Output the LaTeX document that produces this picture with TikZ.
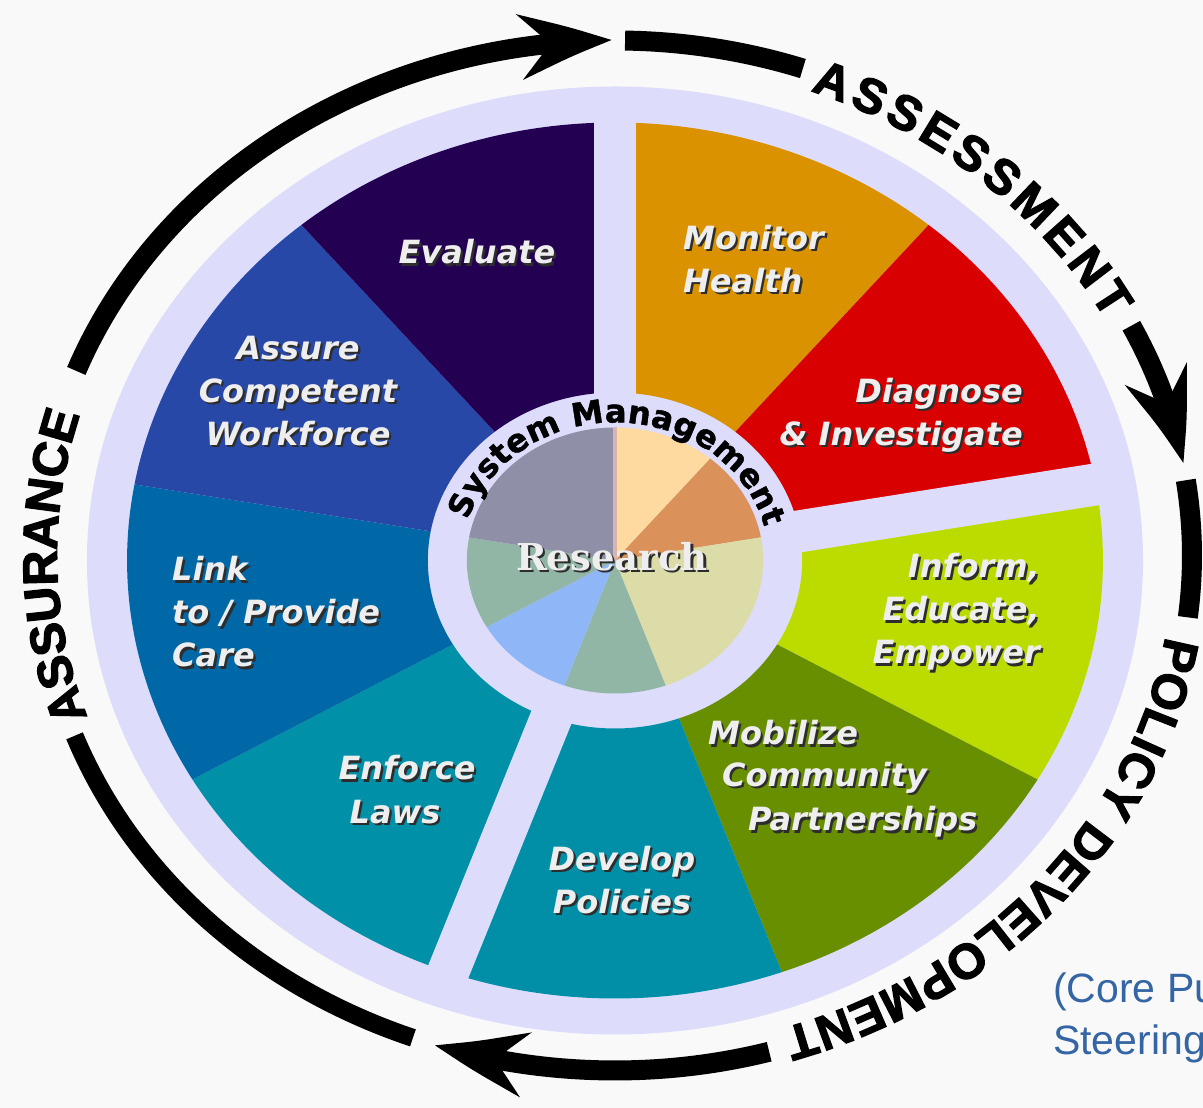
\documentclass[tikz,border=0pt]{standalone}
\usepackage{fontspec}
\usetikzlibrary{arrows.meta,bending,decorations.text,calc}
\newfontfamily\lblfam{DejaVu Sans}
\newfontfamily\smfam{DejaVu Sans}[BoldFeatures={FakeBold=1.5}]
\newfontfamily\serfam{DejaVu Serif}
\newfontfamily\olfam{Liberation Sans}[BoldFeatures={FakeBold=2.5}]
\newfontfamily\notefam{Liberation Sans}
\definecolor{bg}{RGB}{249,249,249}
\definecolor{lav}{RGB}{221,221,251}
\definecolor{cEval}{RGB}{36,0,82}
\definecolor{cAssure}{RGB}{40,72,168}
\definecolor{cLink}{RGB}{0,104,166}
\definecolor{cEnforce}{RGB}{0,144,168}
\definecolor{cDevelop}{RGB}{0,143,166}
\definecolor{cMobil}{RGB}{104,143,0}
\definecolor{cInform}{RGB}{188,220,0}
\definecolor{cDiag}{RGB}{216,0,0}
\definecolor{cMonitor}{RGB}{218,146,0}
\definecolor{pPeach}{RGB}{255,218,160}
\definecolor{pTan}{RGB}{218,146,90}
\definecolor{pKhaki}{RGB}{220,220,168}
\definecolor{pSage}{RGB}{146,182,166}
\definecolor{pBlue}{RGB}{143,183,248}
\definecolor{pGray}{RGB}{143,143,168}
\definecolor{pLine}{RGB}{215,182,176}
\definecolor{noteblue}{RGB}{52,101,164}
\definecolor{embfill}{RGB}{238,238,238}
\definecolor{embshadow}{RGB}{45,45,45}
\newcommand\lblfont{\lblfam\bfseries\itshape\fontsize{32}{43}\selectfont}
\newcommand\resfont{\serfam\bfseries\fontsize{37}{40}\selectfont}
\newcommand\olfont{\olfam\bfseries\fontsize{49}{49}\selectfont}
\newcommand\smfont{\smfam\bfseries\fontsize{32}{32}\selectfont}
\newcommand\emb[4]{%
  \node[wsh,#3] (#1-sh) at ($(#2)+(2.2,-2.2)$) {#4};
  \node[wlbl,#3] (#1) at (#2) {#4};}
\tikzset{
  wlbl/.style={text=embfill, font=\lblfont, inner sep=0pt},
  wsh/.style={text=embshadow, font=\lblfont, inner sep=0pt},
  arcline/.style={line width=20pt, draw=black},
  bigtip/.style={-{Stealth[length=92pt,width=64pt,inset=30pt,bend]}},
  ringtext/.style={decorate, decoration={text along path, text align={fit to path}, raise=-19pt}},
}
\begin{document}
\begin{tikzpicture}[x=1pt,y=1pt]
\useasboundingbox (0,0) rectangle (1203,1108);
\fill[bg] (0,0) rectangle (1203,1108);
\clip (0,0) rectangle (1203,1108);
% ---------------- wheel ----------------
\begin{scope}[shift={(615,547.5)}, xscale=1.114]
  \fill[lav] (0,0) circle[radius=474];
  \foreach \a/\b/\c in {90/50/cMonitor, 50/10/cDiag, 10/-30/cInform, -30/-70/cMobil,
                        -70/-110/cDevelop, -110/-150/cEnforce, -150/-190/cLink,
                        170/130/cAssure, 130/90/cEval}
    \fill[\c] (\a:168) -- (\a:438) arc[start angle=\a, end angle=\b, radius=438]
              -- (\b:168) arc[start angle=\b, end angle=\a, radius=168] -- cycle;
  \foreach \g in {90,10,250}
    \draw[lav, line width=42pt] (\g:150) -- (\g:470);
  \foreach \a/\b/\c in {90/50/pPeach, 50/10/pTan, 10/-70/pKhaki, -70/-110/pSage,
                        -110/-150/pBlue, -150/-190/pSage, 170/90/pGray}
    \fill[\c] (0,0) -- (\a:133) arc[start angle=\a, end angle=\b, radius=133] -- cycle;
  \draw[pLine, line width=4pt] (0,0) -- (90:133);
\end{scope}
% System Management ring text
\begin{scope}[shift={(615,547.5)}]
  \path[decorate, decoration={text along path, text align={fit to path},
        text={|\smfont|System Management}}]
    (163:154 and 138) arc[start angle=163, end angle=14, x radius=154, y radius=138];
\end{scope}
% ---------------- outer cycle ----------------
\begin{scope}[shift={(615,552.5)}]
  \draw[arcline, bigtip] (159:577 and 515) arc[start angle=159, end angle=90.3, x radius=577, y radius=515];
  \draw[arcline] (89:577 and 515) arc[start angle=89, end angle=71, x radius=577, y radius=515];
  \path[ringtext, decoration={text={|\olfont|ASSESSMENT}}]
    (69.5:577 and 515) arc[start angle=69.5, end angle=28.5, x radius=577, y radius=515];
  \draw[arcline, bigtip] (26.5:577 and 515) arc[start angle=26.5, end angle=10.3, x radius=577, y radius=515];
  \draw[arcline] (8.4:577 and 515) arc[start angle=8.4, end angle=-6.9, x radius=577, y radius=515];
  \path[ringtext, decoration={text={|\olfont|POLICY DEVELOPMENT}}]
    (-9.5:577 and 515) arc[start angle=-9.5, end angle=-72.5, x radius=577, y radius=515];
  \draw[arcline, bigtip] (-74.5:577 and 515) arc[start angle=-74.5, end angle=-108.2, x radius=577, y radius=515];
  \draw[arcline, line width=18pt] (-110.5:577 and 515) arc[start angle=-110.5, end angle=-159.5, x radius=577, y radius=515];
  \path[ringtext, decoration={text={|\olfont|ASSURANCE}}]
    (199:577 and 515) arc[start angle=199, end angle=163.5, x radius=577, y radius=515];
\end{scope}
% ---------------- wedge labels ----------------
\emb{eval}{477,856}{}{Evaluate}
\emb{monitor}{683,849}{anchor=west, align=left}{Monitor\\Health}
\emb{diag}{1023,693}{anchor=east, align=right}{Diagnose\\\& Investigate}
\emb{inform}{1040,496}{anchor=east, align=right}{Inform,\\Educate,\\Empower}
\emb{mob1}{708,375}{anchor=west}{Mobilize}
\emb{mob2}{722,330}{anchor=west}{Community}
\emb{mob3}{748,286}{anchor=west}{Partnerships}
\emb{develop}{622,228}{align=center}{Develop\\Policies}
\emb{enf1}{407,340}{}{Enforce}
\emb{enf2}{395,296}{}{Laws}
\emb{link}{172,496}{anchor=west, align=left}{Link\\to / Provide\\Care}
\emb{assure}{298,717}{align=center}{Assure\\Competent\\Workforce}
\node[text=embshadow, font=\resfont, inner sep=0pt] (research-sh) at (614.2,548.8) {Research};
\node[text=embfill, font=\resfont, inner sep=0pt] (research) at (612,551) {Research};
% ---------------- note ----------------
\node[anchor=base west, inner sep=0pt, text=noteblue, font=\notefam\fontsize{41}{41}\selectfont] (note1) at (1053,105) {(Core Pu};
\node[anchor=base west, inner sep=0pt, text=noteblue, font=\notefam\fontsize{41}{41}\selectfont] (note2) at (1053,53) {Steering};
\end{tikzpicture}
\end{document}
